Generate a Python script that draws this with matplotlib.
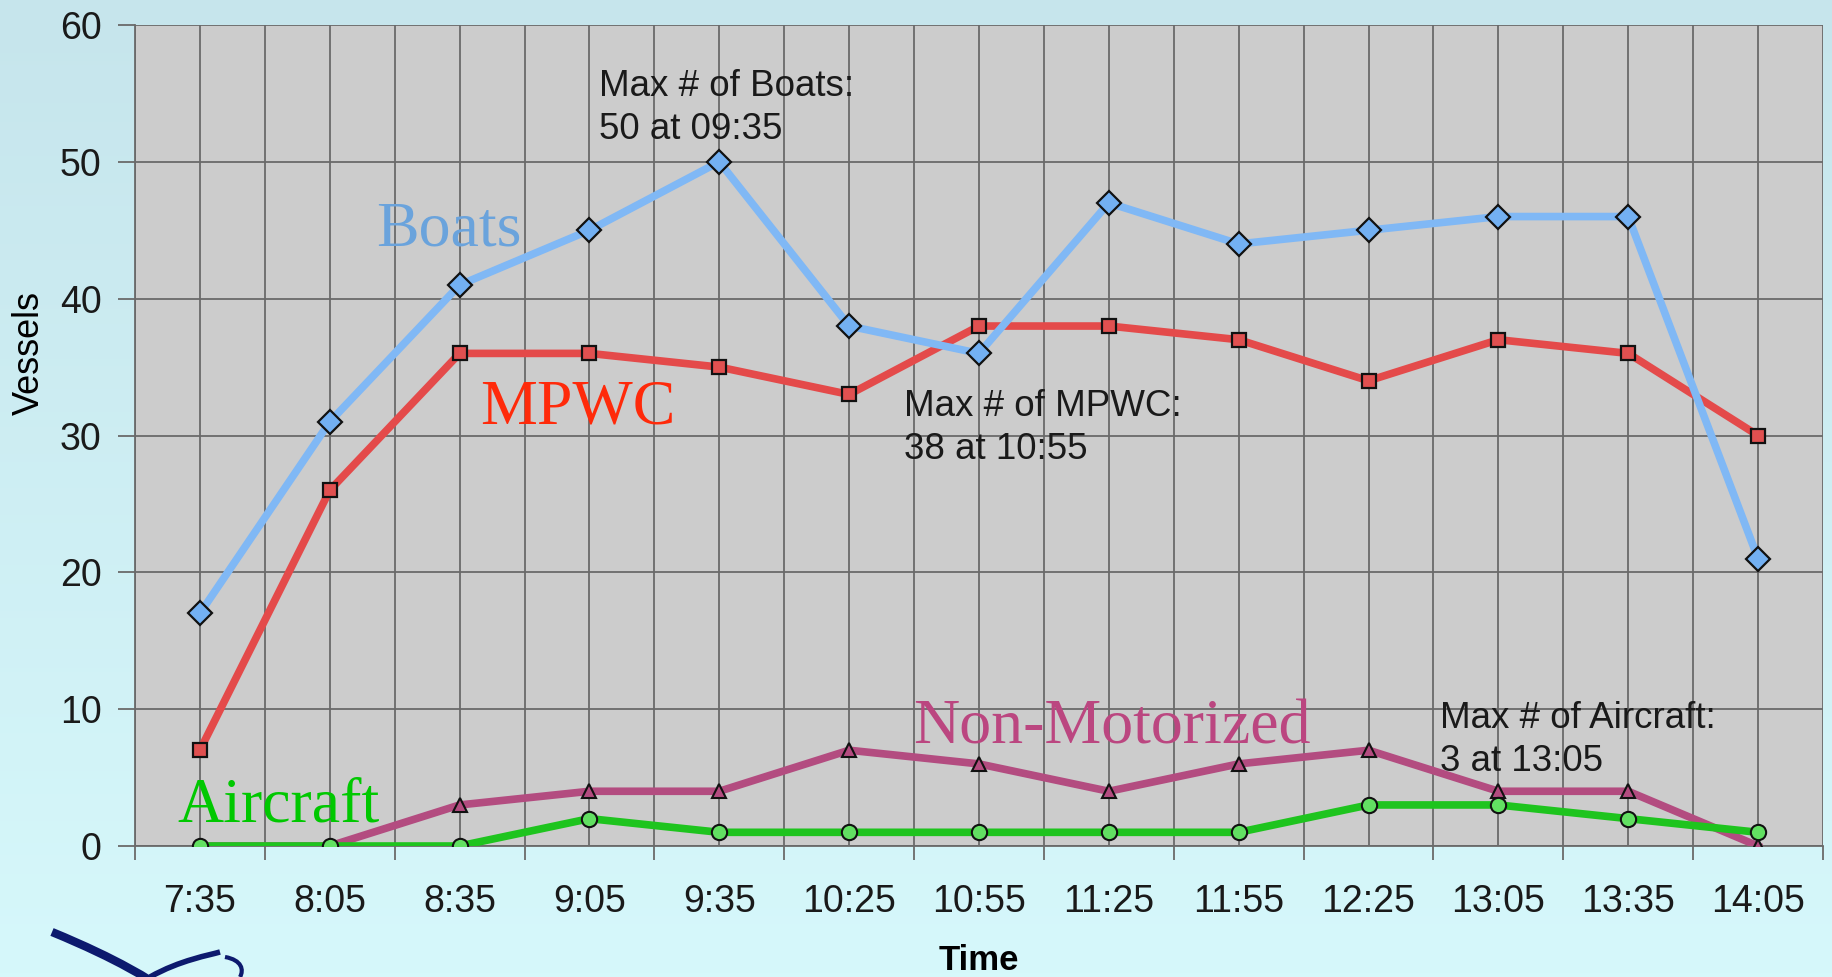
import matplotlib
matplotlib.use("Agg")
import matplotlib.pyplot as plt
import numpy as np
from matplotlib.path import Path
from matplotlib.patches import PathPatch
from matplotlib.colors import LinearSegmentedColormap

times = ["7:35", "8:05", "8:35", "9:05", "9:35", "10:25", "10:55",
         "11:25", "11:55", "12:25", "13:05", "13:35", "14:05"]
boats = [17, 31, 41, 45, 50, 38, 36, 47, 44, 45, 46, 46, 21]
mpwc = [7, 26, 36, 36, 35, 33, 38, 38, 37, 34, 37, 36, 30]
non_motorized = [0, 0, 3, 4, 4, 7, 6, 4, 6, 7, 4, 4, 0]
aircraft = [0, 0, 0, 2, 1, 1, 1, 1, 1, 3, 3, 2, 1]
yticks = [0, 10, 20, 30, 40, 50, 60]

W, H = 1832, 977
fig = plt.figure(figsize=(W / 100, H / 100), dpi=100)

# background gradient
bg = fig.add_axes([0, 0, 1, 1], zorder=-10)
grad = np.linspace(0, 1, 256).reshape(-1, 1)
cm = LinearSegmentedColormap.from_list("bg", ["#c6e5ec", "#d6f8fb"])
bg.imshow(grad, aspect="auto", cmap=cm, extent=[0, 1, 0, 1], origin="upper")
bg.set_axis_off()

# logo-ish swoosh bottom-left
logo = fig.add_axes([0, 0, 1, 1], zorder=-5)
logo.set_xlim(0, W); logo.set_ylim(H, 0); logo.set_axis_off()
verts = [(52, 932), (120, 960), (150, 980), (165, 990)]
logo.add_patch(PathPatch(Path(verts, [Path.MOVETO, Path.CURVE4, Path.CURVE4, Path.CURVE4]),
                         fill=False, lw=6, color="#0d1a6e"))
verts2 = [(150, 977), (180, 960), (210, 955), (220, 952)]
logo.add_patch(PathPatch(Path(verts2, [Path.MOVETO, Path.CURVE4, Path.CURVE4, Path.CURVE4]),
                         fill=False, lw=4, color="#0d1a6e"))
verts3 = [(225, 957), (242, 960), (244, 970), (240, 977)]
logo.add_patch(PathPatch(Path(verts3, [Path.MOVETO, Path.CURVE4, Path.CURVE4, Path.CURVE4]),
                         fill=False, lw=3, color="#0d1a6e"))

L, R, T, B = 135, 1823, 25, 846
ax = fig.add_axes([L / W, 1 - B / H, (R - L) / W, (B - T) / H])
ax.set_facecolor("#cccccc")
x = np.arange(len(times))
ax.set_xlim(-0.5, len(times) - 0.5)
ax.set_ylim(0, 60)

# grid
for v in np.arange(-0.5, len(times), 0.5):
    ax.axvline(v, color="#6a6a6a", lw=1.3, zorder=1)
for yv in yticks:
    ax.axhline(yv, color="#6a6a6a", lw=1.3, zorder=1)

ax.plot(x, boats, color="#80b8f5", lw=5.5, marker="D", ms=12, mfc="#73b0f2",
        mec="#111111", mew=1.6, zorder=5)
ax.plot(x, mpwc, color="#e44a4a", lw=5.5, marker="s", ms=10, mfc="#e05050",
        mec="#111111", mew=1.6, zorder=4)
ax.plot(x, non_motorized, color="#b34c80", lw=5.5, marker="^", ms=10, mfc="#b34c80",
        mec="#111111", mew=1.5, zorder=3)
ax.plot(x, aircraft, color="#1ec41e", lw=5.5, marker="o", ms=11, mfc="#62e062",
        mec="#111111", mew=1.5, zorder=6)

ax.set_yticks(yticks)
ax.set_yticklabels([str(v) for v in yticks], fontsize=27, family="Liberation Sans",
                   color="#1a1a1a")
ax.set_xticks(x)
ax.set_xticklabels(times, fontsize=27, family="Liberation Sans", color="#1a1a1a")
ax.set_xticks(np.arange(-0.5, len(times), 1), minor=True)
ax.tick_params(axis="x", which="major", length=0, pad=27)
ax.tick_params(axis="x", which="minor", length=10, width=1.3, color="#6a6a6a", direction="out")
ax.tick_params(axis="y", length=12, width=1.3, color="#6a6a6a", pad=12)
for s in ["top", "right"]:
    ax.spines[s].set_visible(False)
for s in ["left", "bottom"]:
    ax.spines[s].set_color("#6a6a6a")
    ax.spines[s].set_linewidth(1.3)

ax.set_ylabel("Vessels", fontsize=26, family="Liberation Sans")
ax.yaxis.set_label_coords(-0.052, 0.60)
ax.set_xlabel("Time", fontsize=25, family="Liberation Sans", fontweight="bold", labelpad=18)

annot_kw = dict(fontsize=26.5, family="Liberation Sans", color="#1a1a1a", va="top",
                linespacing=1.3, zorder=7)
ax.text(3.07, 56.8, "Max # of Boats:\n50 at 09:35", **annot_kw)
ax.text(5.42, 33.4, "Max # of MPWC:\n38 at 10:55", **annot_kw)
ax.text(9.55, 10.6, "Max # of Aircraft:\n3 at 13:05", **annot_kw)

serif = dict(family="Liberation Serif", fontsize=46, va="baseline", zorder=8)
ax.text(1.36, 43.9, "Boats", color="#6aa3dc", **serif)
ax.text(2.16, 30.9, "MPWC", color="#ff2a0a", **serif)
ax.text(5.49, 7.5, "Non-Motorized", color="#bb4680", **serif)
ax.text(-0.17, 1.8, "Aircraft", color="#00c800", **serif)

fig.savefig("out.png", dpi=100)
